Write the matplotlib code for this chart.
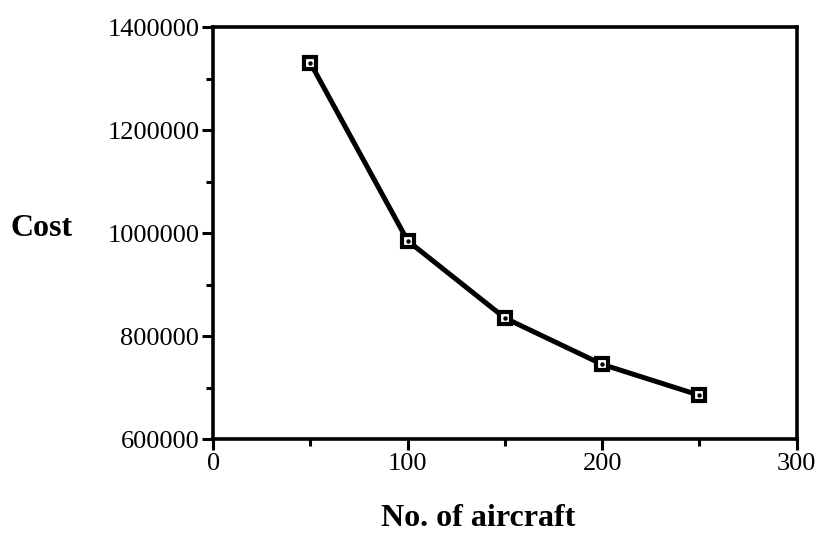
import matplotlib
matplotlib.use('Agg')
import matplotlib.pyplot as plt
from matplotlib.ticker import MultipleLocator

plt.rcParams.update({
    'font.family': ['Liberation Serif', 'DejaVu Serif'],
    'font.size': 16,
})

# aircraft fleet size vs. total cost
aircraft = [50, 100, 150, 200, 250]
cost = [1330000, 985000, 835000, 745000, 685000]

x_ticks = [0, 100, 200, 300]
y_ticks = [600000, 800000, 1000000, 1200000, 1400000]

fig = plt.figure(figsize=(8.17, 5.42), dpi=100)
ax = fig.add_axes([0.261, 0.19, 0.714, 0.76])

ax.plot(aircraft, cost, color='black', linewidth=3.6, solid_capstyle='round',
        marker='s', markersize=9, markerfacecolor='white',
        markeredgecolor='black', markeredgewidth=3.0, zorder=3)
ax.plot(aircraft, cost, linestyle='none', marker='o', markersize=2.2,
        color='black', zorder=4)

ax.set_xlim(0, 300)
ax.set_ylim(600000, 1400000)
ax.set_xticks(x_ticks)
ax.set_yticks(y_ticks)
ax.set_yticklabels([str(v) for v in y_ticks])
ax.xaxis.set_minor_locator(MultipleLocator(50))
ax.yaxis.set_minor_locator(MultipleLocator(100000))

ax.tick_params(which='major', direction='out', length=8, width=2.2,
               labelsize=19, pad=2)
ax.tick_params(axis='x', which='major', pad=2)
ax.tick_params(which='minor', direction='out', length=5, width=2.2)

for spine in ax.spines.values():
    spine.set_linewidth(2.6)

ax.set_xlabel('No. of aircraft', fontsize=23, fontweight='bold')
ax.xaxis.set_label_coords(0.455, -0.158)
ax.set_ylabel('Cost', fontsize=23, fontweight='bold', rotation=0,
              ha='left', va='center')
ax.yaxis.set_label_coords(-0.347, 0.51)

fig.savefig('out.png', dpi=100)
plt.close(fig)
